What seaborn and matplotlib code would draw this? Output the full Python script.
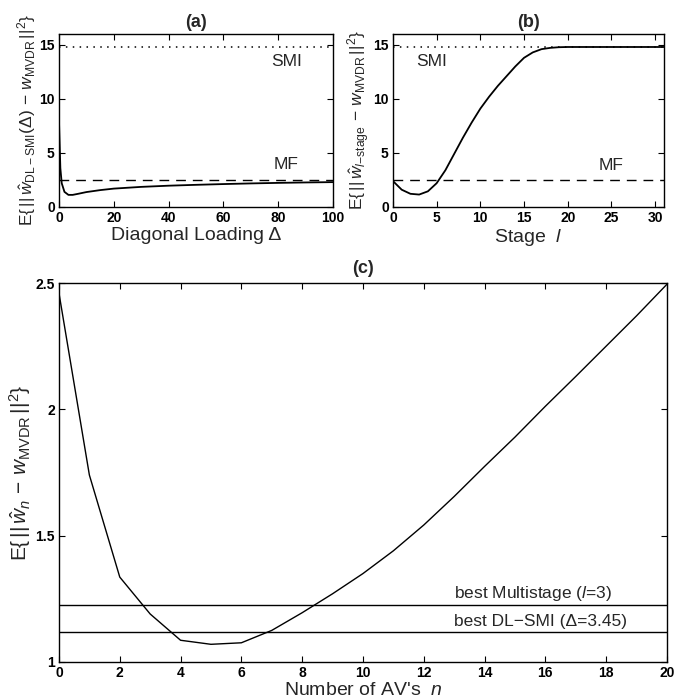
import matplotlib
matplotlib.use("Agg")
import matplotlib.pyplot as plt
import seaborn as sns
from matplotlib.ticker import FormatStrFormatter

# (a) DL-SMI error vs diagonal loading
delta = [0, 0.5, 1, 2, 3.45, 5, 7, 10, 15, 20, 30, 40, 50, 60, 70, 80, 90, 100]
err_dl = [8.0, 3.6, 2.2, 1.4, 1.12, 1.12, 1.22, 1.38, 1.56, 1.70, 1.86, 1.97, 2.05, 2.12, 2.18, 2.23, 2.27, 2.30]

# (b) multistage error vs stage
stage = list(range(0, 32))
err_ms = [2.4, 1.6, 1.22, 1.15, 1.45, 2.2, 3.4, 4.9, 6.4, 7.8, 9.1, 10.2, 11.2, 12.1,
          13.0, 13.8, 14.3, 14.6, 14.72, 14.78, 14.8, 14.8, 14.8, 14.8, 14.8, 14.8,
          14.8, 14.8, 14.8, 14.8, 14.8, 14.8]

smi_level = 14.8
mf_level = 2.48

# (c) AV filter error vs number of AVs
n_av = list(range(0, 21))
err_av = [2.46, 1.74, 1.336, 1.19, 1.086, 1.07, 1.076, 1.125, 1.195, 1.27, 1.35,
          1.44, 1.542, 1.655, 1.774, 1.89, 2.012, 2.13, 2.25, 2.37, 2.495]
best_ms = 1.225
best_dl = 1.12

sns.set_style("ticks")
plt.rcParams["font.family"] = ["Liberation Sans", "DejaVu Sans"]
plt.rcParams.update({
    "mathtext.fontset": "custom",
    "mathtext.rm": "Liberation Sans",
    "mathtext.it": "Liberation Sans:italic",
    "mathtext.bf": "Liberation Sans:bold",
    "xtick.direction": "in",
    "ytick.direction": "in",
    "xtick.top": True,
    "ytick.right": True,
    "axes.edgecolor": "black",
    "axes.linewidth": 1.0,
})

fig = plt.figure(figsize=(6.74, 7.0), dpi=100)
ax_a = fig.add_axes([0.0875, 0.7043, 0.4065, 0.2471])
ax_b = fig.add_axes([0.583, 0.7043, 0.402, 0.2471])
ax_c = fig.add_axes([0.0875, 0.0543, 0.902, 0.5414])


def style_axis(ax):
    ax.tick_params(labelsize=10, length=4, width=0.8, colors="black", pad=3)
    for lab in ax.get_xticklabels() + ax.get_yticklabels():
        lab.set_fontweight("bold")
    for s in ax.spines.values():
        s.set_visible(True)


# panel (a)
sns.lineplot(x=delta, y=err_dl, ax=ax_a, color="black", lw=1.3)
ax_a.axhline(smi_level, color="black", ls=(0, (1, 3.5)), lw=1.1)
ax_a.axhline(mf_level, color="black", ls=(0, (7, 5)), lw=1.0)
ax_a.text(83, 13.5, "SMI", ha="center", va="center", fontsize=12.5)
ax_a.text(83, 3.9, "MF", ha="center", va="center", fontsize=12.5)
ax_a.set_xlim(0, 100)
ax_a.set_ylim(0, 16)
ax_a.set_xticks(range(0, 101, 20))
ax_a.set_yticks([0, 5, 10, 15])
ax_a.set_title("(a)", fontsize=13, fontweight="bold", pad=5)
ax_a.set_xlabel("Diagonal Loading \u0394", fontsize=14, labelpad=1)
ax_a.set_ylabel(r"E$\{\,||\,\hat{w}_{\mathrm{DL-SMI}}(\Delta)\,-\,w_{\mathrm{MVDR}}\,||^2\}$",
                fontsize=12.5, labelpad=1)
style_axis(ax_a)

# panel (b)
sns.lineplot(x=stage, y=err_ms, ax=ax_b, color="black", lw=1.3)
ax_b.axhline(smi_level, color="black", ls=(0, (1, 3.5)), lw=1.1)
ax_b.axhline(mf_level, color="black", ls=(0, (7, 5)), lw=1.0)
ax_b.text(4.4, 13.5, "SMI", ha="center", va="center", fontsize=12.5)
ax_b.text(25, 3.8, "MF", ha="center", va="center", fontsize=12.5)
ax_b.set_xlim(0, 31)
ax_b.set_ylim(0, 16)
ax_b.set_xticks(range(0, 31, 5))
ax_b.set_yticks([0, 5, 10, 15])
ax_b.set_title("(b)", fontsize=13, fontweight="bold", pad=5)
ax_b.set_xlabel(r"Stage  $l$", fontsize=14, labelpad=1)
ax_b.set_ylabel(r"E$\{\,||\,\hat{w}_{l\mathrm{-stage}}\,-\,w_{\mathrm{MVDR}}\,||^2\}$",
                fontsize=12.5, labelpad=1)
style_axis(ax_b)

# panel (c)
sns.lineplot(x=n_av, y=err_av, ax=ax_c, color="black", lw=1.0)
ax_c.axhline(best_ms, color="black", lw=1.0)
ax_c.axhline(best_dl, color="black", lw=1.0)
ax_c.text(13, best_ms + 0.01, r"best Multistage ($l$=3)", ha="left", va="bottom", fontsize=12.5)
ax_c.text(13, best_dl + 0.01, "best DL\u2212SMI (\u0394=3.45)", ha="left", va="bottom", fontsize=12.5)
ax_c.set_xlim(0, 20)
ax_c.set_ylim(1, 2.5)
ax_c.set_xticks(range(0, 21, 2))
ax_c.set_yticks([1, 1.5, 2, 2.5])
ax_c.yaxis.set_major_formatter(FormatStrFormatter("%g"))
ax_c.set_title("(c)", fontsize=13, fontweight="bold", pad=7)
ax_c.set_xlabel(r"Number of AV's  $n$", fontsize=14, labelpad=1)
ax_c.set_ylabel(r"E$\{\,||\,\hat{w}_{n}\,-\,w_{\mathrm{MVDR}}\,||^2\}$", fontsize=15, labelpad=2)
style_axis(ax_c)

fig.savefig("out.png", dpi=100)
